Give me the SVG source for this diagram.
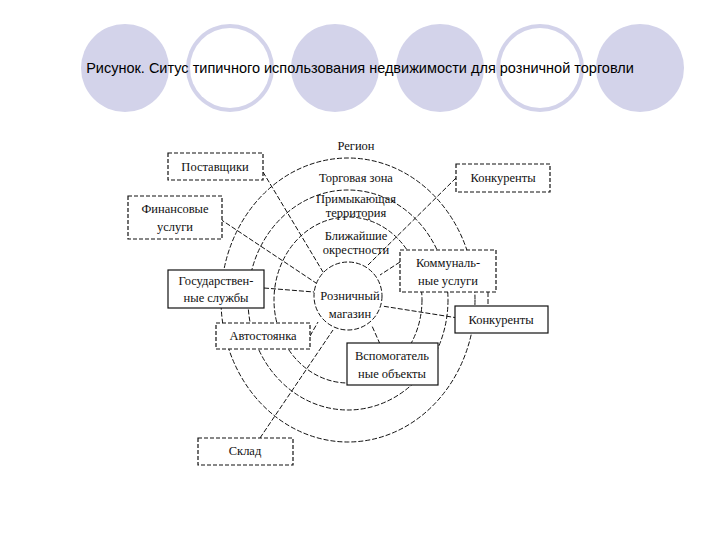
<svg xmlns="http://www.w3.org/2000/svg" width="720" height="540" viewBox="0 0 720 540">
<style>
.t{font-family:"Liberation Serif",serif;font-size:12.5px;fill:#111;text-anchor:middle}
.b{fill:#fff;stroke:#111;stroke-width:1.2}
.d{stroke-dasharray:4 2}
.c{fill:none;stroke:#111;stroke-width:1;stroke-dasharray:5 2}
.l{stroke:#111;stroke-width:1;stroke-dasharray:5 2;fill:none}
</style>
<rect width="720" height="540" fill="#fff"/>
<g fill="#d3d3ea"><circle cx="125" cy="68" r="44"/><circle cx="230" cy="68" r="44"/><circle cx="335" cy="68" r="44"/><circle cx="440" cy="68" r="44"/><circle cx="540" cy="68" r="44"/><circle cx="640" cy="68" r="44"/></g>
<g fill="#fff"><circle cx="230" cy="68" r="40"/><circle cx="540" cy="68" r="40"/></g>
<text x="360" y="73" style="font-family:'Liberation Sans',sans-serif;font-size:14.5px;fill:#000" text-anchor="middle">Рисунок. Ситус типичного использования недвижимости для розничной торговли</text>
<g id="rings">
<ellipse class="c" cx="348" cy="300" rx="127" ry="142"/>
<ellipse class="c" cx="348" cy="300" rx="100" ry="110"/>
<ellipse class="c" cx="348" cy="300" rx="74" ry="83"/>
</g>
<g id="connectors">
<path class="l" d="M263 172L323 272M220 219L316 283M264 288L314 292M310 336L318 322M260 438L333 330M456 178L368 265M400 262L380 275M458 318L382 306M380 344L372 326M488 292L488 306"/>
</g>
<g id="store"><circle cx="348" cy="296" r="34" fill="#fff" stroke="#111" stroke-dasharray="5 2"/><text class="t" x="350" y="300">Розничный</text><text class="t" x="350" y="318">магазин</text></g>
<g id="zones">
<text class="t" x="356" y="150">Регион</text>
<text class="t" x="356" y="182">Торговая зона</text>
<text class="t" x="356" y="203">Примыкающая</text><text class="t" x="356" y="217">территория</text>
<text class="t" x="356" y="240">Ближайшие</text><text class="t" x="356" y="254">окрестности</text>
</g>
<g id="n1"><rect class="b d" x="168" y="153" width="95" height="27"/><text class="t" x="215" y="171">Поставщики</text></g>
<g id="n2"><rect class="b d" x="128" y="196" width="94" height="43"/><text class="t" x="175" y="213">Финансовые</text><text class="t" x="175" y="231">услуги</text></g>
<g id="n3"><rect class="b" x="168" y="270" width="96" height="38"/><text class="t" x="216" y="285">Государствен-</text><text class="t" x="216" y="302">ные службы</text></g>
<g id="n4"><rect class="b d" x="216" y="323" width="94" height="26"/><text class="t" x="263" y="340">Автостоянка</text></g>
<g id="n5"><rect class="b d" x="198" y="438" width="95" height="27"/><text class="t" x="245" y="455">Склад</text></g>
<g id="n6"><rect class="b d" x="456" y="164" width="94" height="28"/><text class="t" x="503" y="182">Конкуренты</text></g>
<g id="n7"><rect class="b d" x="400" y="250" width="96" height="42"/><text class="t" x="448" y="267">Коммуналь-</text><text class="t" x="448" y="285">ные услуги</text></g>
<g id="n8"><rect class="b" x="455" y="306" width="93" height="27"/><text class="t" x="501" y="324">Конкуренты</text></g>
<g id="n9"><rect class="b" x="347" y="343" width="91" height="42"/><text class="t" x="392" y="360">Вспомогатель</text><text class="t" x="392" y="378">ные объекты</text></g>
</svg>
